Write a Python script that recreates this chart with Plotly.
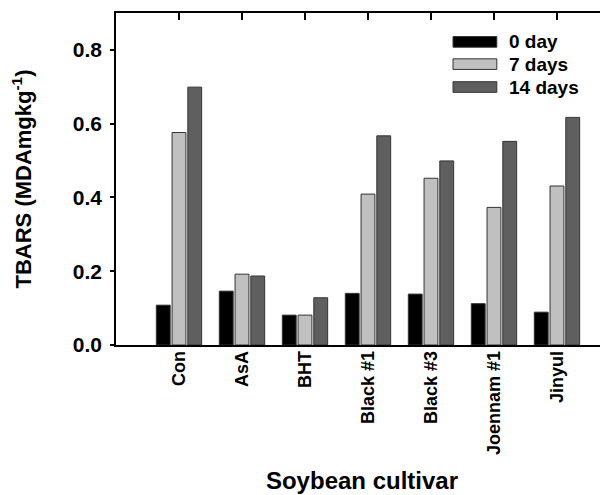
import plotly.graph_objects as go

categories = ["Con", "AsA", "BHT", "Black #1", "Black #3", "Joennam #1", "Jinyul"]
series_names = ["0 day", "7 days", "14 days"]
day0 = [0.108, 0.146, 0.081, 0.140, 0.138, 0.112, 0.089]
day7 = [0.576, 0.192, 0.081, 0.409, 0.452, 0.373, 0.431]
day14 = [0.699, 0.187, 0.128, 0.567, 0.499, 0.552, 0.617]
y_ticks = [0.0, 0.2, 0.4, 0.6, 0.8]

colors = ["#000000", "#c0c0c0", "#5f5f5f"]
FONT = "Liberation Sans, Arial, sans-serif"

fig = go.Figure()
for name, vals, c in zip(series_names, [day0, day7, day14], colors):
    fig.add_trace(go.Bar(
        x=list(range(len(categories))), y=vals, name=name,
        marker=dict(color=c, line=dict(color="#333333", width=1)),
        showlegend=False,
    ))

# manual legend with wide swatches
leg_y = [0.913, 0.846, 0.777]
for name, c, yy in zip(series_names, colors, leg_y):
    fig.add_shape(type="rect", xref="paper", yref="paper",
                  x0=0.685, x1=0.774, y0=yy - 0.016, y1=yy + 0.016,
                  fillcolor=c, line=dict(color="#333333", width=1))
    fig.add_annotation(xref="paper", yref="paper", x=0.795, y=yy,
                       text="<b>%s</b>" % name, showarrow=False,
                       xanchor="left", yanchor="middle",
                       font=dict(family=FONT, size=19, color="black"))

fig.update_layout(
    width=600, height=487,
    margin=dict(l=108, r=0, t=5, b=150, autoexpand=False),
    paper_bgcolor="white", plot_bgcolor="white",
    barmode="group", bargap=0.25, bargroupgap=0.12,
    font=dict(family=FONT, color="black"),
    xaxis=dict(
        range=[-1, 6.81], tickvals=list(range(len(categories))),
        ticktext=["<b>%s</b>" % c for c in categories], automargin=False,
        tickangle=-90, ticks="", ticklabelstandoff=-3,
        showline=True, linecolor="black", linewidth=1.5,
        showgrid=False, zeroline=False, tickfont=dict(size=18),
        title=dict(text="<b>Soybean cultivar</b>", font=dict(size=24), standoff=18),
    ),
    xaxis2=dict(
        overlaying="x", side="top", anchor="y", automargin=False,
        range=[-1, 6.81], tickvals=list(range(len(categories))),
        showticklabels=False, ticks="inside", ticklen=7, tickwidth=1.5, tickcolor="black",
        showline=True, linecolor="black", linewidth=1.5, showgrid=False, zeroline=False,
    ),
    yaxis=dict(
        range=[0, 0.9], tickvals=y_ticks, ticktext=["<b>%.1f</b>" % v for v in y_ticks],
        automargin=False, ticklabelstandoff=4,
        ticks="outside", ticklen=4, tickwidth=1.5, tickcolor="black",
        showline=True, linecolor="black", linewidth=1.5, showgrid=False, zeroline=False,
        tickfont=dict(size=21),
        title=dict(text="<b>TBARS (MDAmgkg<sup>-1</sup>)</b>", font=dict(size=22), standoff=39),
    ),
)
# invisible point on the top axis so it renders
fig.add_trace(go.Scatter(x=[0], y=[0], xaxis="x2", mode="markers",
                         marker=dict(opacity=0), showlegend=False, hoverinfo="skip"))

fig.write_html("out.html")
